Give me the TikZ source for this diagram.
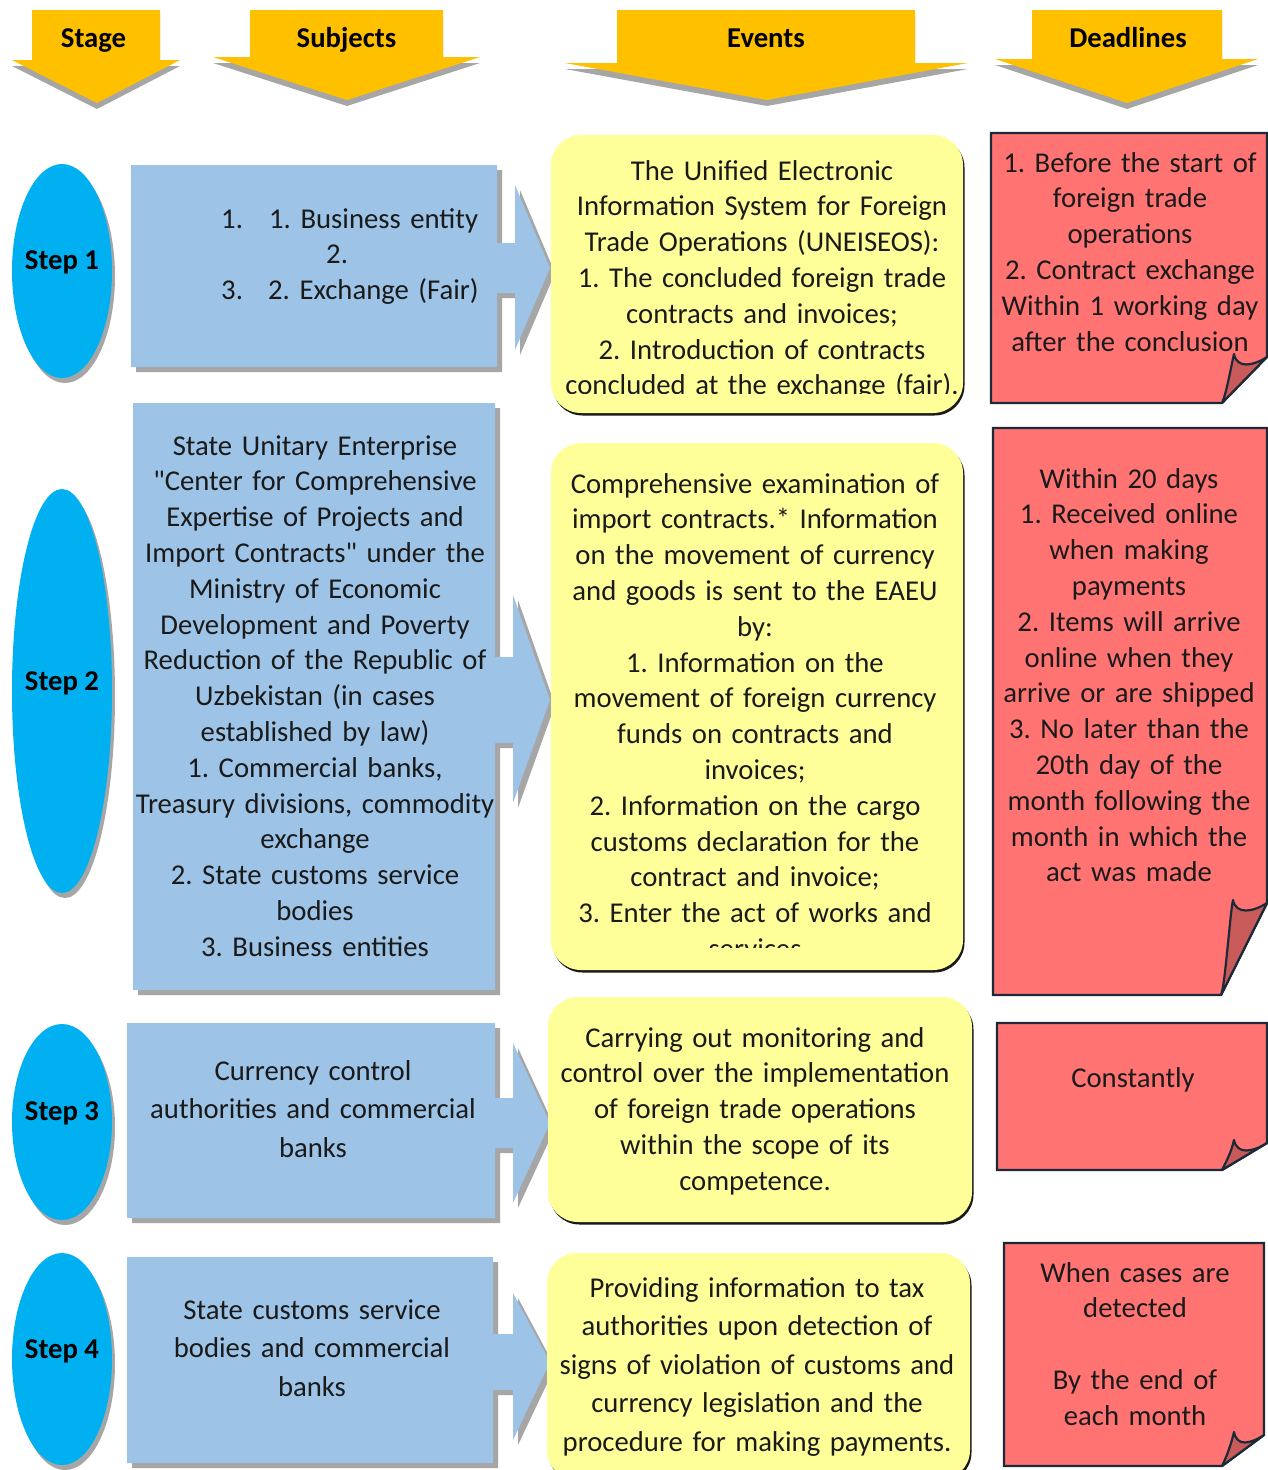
\documentclass[tikz,border=0pt]{standalone}
\usepackage{fontspec}
\setmainfont{Carlito}
\frenchspacing
\definecolor{hdr}{HTML}{FFC000}
\definecolor{shd}{HTML}{A6A6A6}
\definecolor{stepc}{HTML}{00B0F0}
\definecolor{subj}{HTML}{9DC3E6}
\definecolor{evt}{HTML}{FFFF99}
\definecolor{ddl}{HTML}{FF7373}
\definecolor{foldc}{HTML}{C85A5A}
\definecolor{ddlb}{HTML}{1C2A38}
\definecolor{ink}{HTML}{1A1A1A}
% header arrow: x1 x2 wl wr ybase tipx tipy
\newcommand\HdrArrow[7]{%
  \fill[shd] (#1,16)--(#2,16)--(#2,#5+6)--(#4,#5+6)--(#6,#7+6)--(#3,#5+6)--(#1,#5+6)--cycle;
  \fill[hdr] (#1,10)--(#2,10)--(#2,#5)--(#4,#5)--(#6,#7)--(#3,#5)--(#1,#5)--cycle;}
% blue arrow: x1 y1 x2 y2 headx headtop headbottom tipy halfshaft
\newcommand\BlueArrow[9]{%
  \begin{scope}[shift={(5,5)}]
  \fill[shd] (#1,#2)--(#3,#2)--(#3,#8-#9)--(#5,#8-#9)--(#5,#6)--(550,#8)--(#5,#7)--(#5,#8+#9)--(#3,#8+#9)--(#3,#4)--(#1,#4)--cycle;
  \end{scope}
  \fill[subj] (#1,#2)--(#3,#2)--(#3,#8-#9)--(#5,#8-#9)--(#5,#6)--(550,#8)--(#5,#7)--(#5,#8+#9)--(#3,#8+#9)--(#3,#4)--(#1,#4)--cycle;}
% yellow box: x1 y1 x2 y2
\newcommand\EvtBox[4]{%
  \fill[ink, rounded corners=30pt] (#1+1.5,#2+2.5) rectangle (#3+1.5,#4+2.5);
  \fill[evt, rounded corners=30pt] (#1,#2) rectangle (#3,#4);}
% red note: x1 y1 x2 y2 foldy foldx
\newcommand\RedNote[6]{%
  \filldraw[fill=ddl, draw=ddlb, line width=2.2pt, line join=miter] (#1,#2)--(#3,#2)--(#3,#5)--(#6,#4)--(#1,#4)--cycle;
  \filldraw[fill=foldc, draw=ddlb, line width=2.2pt, line join=round]
    (#6,#4) .. controls (#6+4,#4-8) and (#6+9,#5+10) .. (#6+12,#5-3)
    .. controls (#6+15,#5+12) and (#3-14,#5+9) .. (#3,#5) -- cycle;}
\begin{document}
\begin{tikzpicture}[x=1pt,y=-1pt,
  txt/.style={font=\fontsize{28.7}{35.8}\selectfont, text=ink, inner sep=0pt, align=center, anchor=base},
  txtw/.style={font=\fontsize{28.7}{38.5}\selectfont, text=ink, inner sep=0pt, align=center, anchor=base},
  hdrtxt/.style={font=\bfseries\fontsize{28.7}{36}\selectfont, text=black, inner sep=0pt, anchor=base},
  stepname/.style={font=\bfseries\fontsize{28.7}{36}\selectfont, text=black, inner sep=0pt, anchor=base}]
\useasboundingbox (0,0) rectangle (1268,1470);
\fill[white] (0,0) rectangle (1268,1470);

% ---------- headers ----------
\HdrArrow{32}{160}{12}{180}{60}{97}{103}
\HdrArrow{250}{443}{213}{480}{57}{347}{100}
\HdrArrow{617}{915}{565}{968}{63}{767}{100}
\HdrArrow{1032}{1222}{995}{1258}{59}{1127}{103}
\node[hdrtxt] (hstage) at (93.5,47) {Stage};
\node[hdrtxt] (hsubj) at (346.5,47) {Subjects};
\node[hdrtxt] (hevt) at (766,47) {Events};
\node[hdrtxt] (hddl) at (1128,47) {Deadlines};

% ---------- step ellipses ----------
\fill[shd] (65,276) ellipse [x radius=50, y radius=107];
\fill[stepc] (62,271) ellipse [x radius=50, y radius=107];
\fill[shd] (65,696) ellipse [x radius=50, y radius=202];
\fill[stepc] (62,691) ellipse [x radius=50, y radius=202];
\fill[shd] (65,1127) ellipse [x radius=50, y radius=98];
\fill[stepc] (62,1122) ellipse [x radius=50, y radius=98];
\fill[shd] (65,1364) ellipse [x radius=50, y radius=106];
\fill[stepc] (62,1359) ellipse [x radius=50, y radius=106];
\node[stepname] (st1) at (62,269) {Step 1};
\node[stepname] (st2) at (62,690) {Step 2};
\node[stepname] (st3) at (62,1120) {Step 3};
\node[stepname] (st4) at (62,1358) {Step 4};

% ---------- subjects (blue arrows) ----------
\BlueArrow{131}{165}{497}{367}{515}{185}{350}{268}{25}
\BlueArrow{133}{403}{495}{990}{513}{595}{803}{700}{43}
\BlueArrow{127}{1023}{495}{1218}{513}{1043}{1203}{1123}{25}
\BlueArrow{127}{1257}{493}{1463}{513}{1293}{1440}{1362}{28}

\node[txt, anchor=base west, align=left, text width=280] (sub1) at (221,228)
  {\makebox[48pt][l]{1.}1. Business entity\\
   \hspace*{105pt}2.\\
   \makebox[47pt][l]{3.}2. Exchange (Fair)};
\node[txt, text width=400] (sub2) at (315,455)
  {State Unitary Enterprise\\
   \textquotedbl Center for Comprehensive\\
   Expertise of Projects and\\
   Import Contracts\textquotedbl{} under the\\
   Ministry of Economic\\
   Development and Poverty\\
   Reduction of the Republic of\\
   Uzbekistan (in cases\\
   established by law)\\
   1. Commercial banks,\\
   Treasury divisions, commodity\\
   exchange\\
   2. State customs service\\
   bodies\\
   3. Business entities};
\node[txtw, text width=400] (sub3) at (313,1080)
  {Currency control\\ authorities and commercial\\ banks};
\node[txtw, text width=400] (sub4) at (312,1319)
  {State customs service\\ bodies and commercial\\ banks};

% ---------- events (yellow boxes) ----------
\EvtBox{551}{135}{963}{413}
\EvtBox{551}{443}{963}{970}
\EvtBox{548}{997}{972}{1222}
\EvtBox{547}{1253}{970}{1480}

\begin{scope}
\clip (551,135) rectangle (963,393);
\node[txt, text width=420] (ev1) at (762,180)
  {The Unified Electronic\\
   Information System for Foreign\\
   Trade Operations (UNEISEOS):\\
   1. The concluded foreign trade\\
   contracts and invoices;\\
   2. Introduction of contracts\\
   concluded at the exchange (fair).};
\end{scope}
\begin{scope}
\clip (551,443) rectangle (963,947.5);
\node[txt, text width=420] (ev2) at (755,493)
  {Comprehensive examination of\\
   import contracts.* Information\\
   on the movement of currency\\
   and goods is sent to the EAEU\\
   by:\\
   1. Information on the\\
   movement of foreign currency\\
   funds on contracts and\\
   invoices;\\
   2. Information on the cargo\\
   customs declaration for the\\
   contract and invoice;\\
   3. Enter the act of works and\\
   services};
\end{scope}
\node[txt, text width=420] (ev3) at (755,1047)
  {Carrying out monitoring and\\
   control over the implementation\\
   of foreign trade operations\\
   within the scope of its\\
   competence.};
\node[txtw, text width=420] (ev4) at (757,1297)
  {Providing information to tax\\
   authorities upon detection of\\
   signs of violation of customs and\\
   currency legislation and the\\
   procedure for making payments.};

% ---------- deadlines (red notes) ----------
\RedNote{991}{133}{1267}{403}{357}{1222}
\RedNote{993}{428}{1267}{995}{903}{1221}
\RedNote{997}{1023}{1267}{1170}{1143}{1222}
\RedNote{1004}{1243}{1264}{1466}{1435}{1222}

\node[txt, text width=270] (dl1) at (1130,172)
  {1. Before the start of\\ foreign trade\\ operations\\ 2. Contract exchange\\ Within 1 working day\\ after the conclusion};
\node[txt, text width=270] (dl2) at (1129,488)
  {Within 20 days\\
   1. Received online\\
   when making\\
   payments\\
   2. Items will arrive\\
   online when they\\
   arrive or are shipped\\
   3. No later than the\\
   20th day of the\\
   month following the\\
   month in which the\\
   act was made};
\node[txt, text width=270] (dl3) at (1133,1087) {Constantly};
\node[txt, text width=260] (dl4) at (1135,1282)
  {When cases are\\ detected\\[35.8pt] By the end of\\ each month};
\end{tikzpicture}
\end{document}
